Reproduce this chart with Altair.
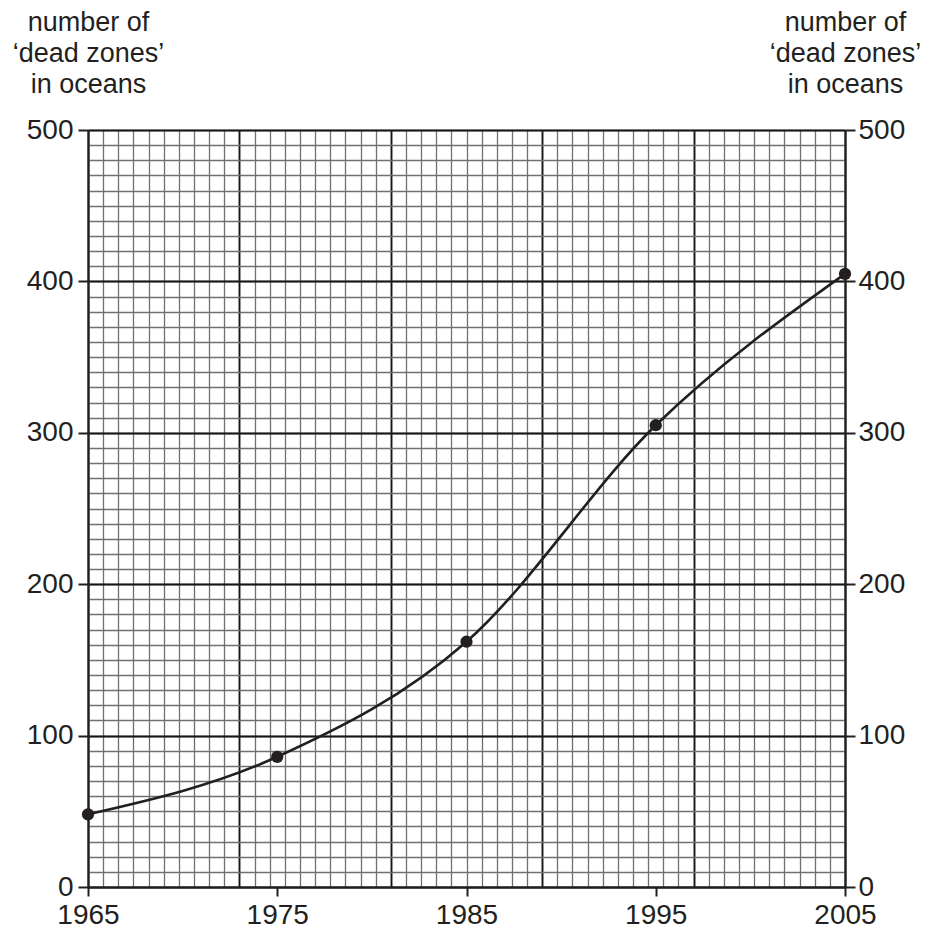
import altair as alt
import pandas as pd

# Data
years = [1965, 1975, 1985, 1995, 2005]
dead_zones = [48, 86, 162, 305, 405]

# Axis tick / grid values
x_ticks = [1965, 1975, 1985, 1995, 2005]
y_ticks = [0, 100, 200, 300, 400, 500]
x_major_grid = [1965, 1973, 1981, 1989, 1997, 2005]
x_minor_grid = [round(1965 + 0.8 * i, 1) for i in range(51)]
y_major_grid = [0, 100, 200, 300, 400, 500]
y_minor_grid = list(range(0, 501, 10))

title_lines = ["number of", "\u2018dead zones\u2019", "in oceans"]

df = pd.DataFrame({"year": years, "zones": dead_zones})

FONT = "Liberation Sans"
INK = "#231f20"
xscale = alt.Scale(domain=[1965, 2005], nice=False, zero=False)
yscale = alt.Scale(domain=[0, 500], nice=False, zero=False)

base = alt.Chart(df)


def grid_layer(xv, yv, color, width):
    return base.mark_point(opacity=0).encode(
        x=alt.X("year:Q", scale=xscale, axis=alt.Axis(
            values=xv, grid=True, gridColor=color, gridWidth=width, gridOpacity=1,
            labels=False, ticks=False, domain=False, title=None, orient="bottom")),
        y=alt.Y("zones:Q", scale=yscale, axis=alt.Axis(
            values=yv, grid=True, gridColor=color, gridWidth=width, gridOpacity=1,
            labels=False, ticks=False, domain=False, title=None, orient="left")),
    )


minor = grid_layer(x_minor_grid, y_minor_grid, "#707070", 1.3)
major = grid_layer(x_major_grid, y_major_grid, "#161616", 1.8)


def yaxis(orient, pad):
    return alt.Axis(
        values=y_ticks, grid=False, orient=orient,
        domainColor=INK, domainWidth=2, tickColor=INK, tickWidth=2, tickSize=10,
        labelFont=FONT, labelFontSize=28, labelColor=INK, labelPadding=pad,
        labelFlush=False, labelOverlap=False, labelBaseline="middle",
        title=title_lines, titleAngle=0, titleX=0, titleY=-100,
        titleAlign="center", titleBaseline="alphabetic", titleFont=FONT,
        titleFontSize=27, titleFontWeight="normal", titleColor=INK,
        titleLineHeight=31)


line = base.mark_line(interpolate="monotone", color=INK, strokeWidth=2.6).encode(
    x=alt.X("year:Q", scale=xscale, axis=alt.Axis(
        values=x_ticks, format="d", grid=False, orient="bottom", title=None,
        domainColor=INK, domainWidth=2, tickColor=INK, tickWidth=2, tickSize=9,
        labelFont=FONT, labelFontSize=28, labelColor=INK, labelPadding=5,
        labelFlush=False, labelOverlap=False)),
    y=alt.Y("zones:Q", scale=yscale, axis=yaxis("left", 5)),
)

points = base.mark_circle(size=150, color=INK, opacity=1).encode(
    x=alt.X("year:Q", scale=xscale, axis=None),
    y=alt.Y("zones:Q", scale=yscale, axis=yaxis("right", 3)),
)

chart = alt.layer(minor, major, line, points).resolve_axis(
    x="independent", y="independent"
).properties(
    width=757, height=757,
    autosize=alt.AutoSizeParams(type="none"),
    padding={"left": 80, "top": 122, "right": 77, "bottom": 44},
    background="white",
).configure_view(stroke=None)

chart.save("out.html", embed_options={"renderer": "svg", "actions": False})
